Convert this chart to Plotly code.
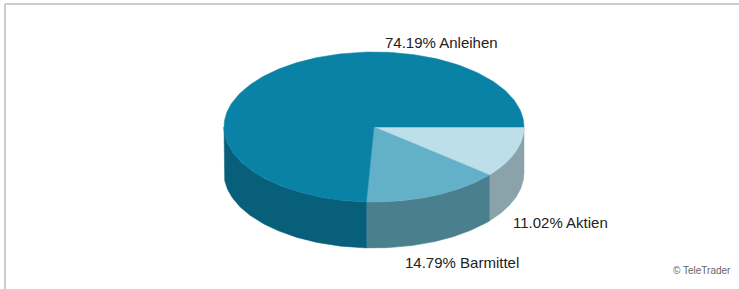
import numpy as np
import plotly.graph_objects as go

labels = ["Aktien", "Barmittel", "Anleihen"]
values = [11.02, 14.79, 74.19]
top_colors = ["#BDDFE9", "#62B1C9", "#0A82A6"]
side_colors = ["#8AA3AB", "#4A7F8E", "#075F7A"]

W, H = 739, 289
cx, cy, rx, ry, depth = 374, 127, 150, 75, 46

fig = go.Figure()

total = sum(values)
starts = np.cumsum([0] + values[:-1]) / total * 360
ends = np.cumsum(values) / total * 360

def pt(theta_deg):
    t = np.radians(theta_deg)
    return cx + rx * np.cos(t), cy + ry * np.sin(t)

# side walls (front half only: 0..180 deg, screen y downward)
for s, e, col in zip(starts, ends, side_colors):
    a, b = max(s, 0), min(e, 180)
    if b <= a:
        continue
    th = np.linspace(a, b, 80)
    xs, ys = pt(th)
    px = list(xs) + list(xs[::-1]) + [xs[0]]
    py = list(ys) + list((ys + depth)[::-1]) + [ys[0]]
    fig.add_trace(go.Scatter(x=px, y=py, fill="toself", fillcolor=col,
                             mode="lines", line=dict(width=0.5, color=col),
                             hoverinfo="skip", showlegend=False))

# top faces
for s, e, col in zip(starts, ends, top_colors):
    th = np.linspace(s, e, 200)
    xs, ys = pt(th)
    px = [cx] + list(xs) + [cx]
    py = [cy] + list(ys) + [cy]
    fig.add_trace(go.Scatter(x=px, y=py, fill="toself", fillcolor=col,
                             mode="lines", line=dict(width=0.5, color=col),
                             hoverinfo="skip", showlegend=False))

label_pos = {
    "Anleihen": (441, 42, "center"),
    "Aktien": (511, 222, "left"),
    "Barmittel": (462, 262, "center"),
}
for lab, v in zip(labels, values):
    x, y, al = label_pos[lab]
    fig.add_annotation(x=x, y=y, xref="x", yref="y", text=f"{v:.2f}% {lab}",
                       showarrow=False, xanchor=al, yanchor="middle",
                       font=dict(family="Liberation Sans, Arial", size=15, color="#222"))

fig.add_annotation(x=733, y=270, xref="x", yref="y", text="© TeleTrader",
                   showarrow=False, xanchor="right", yanchor="middle",
                   font=dict(family="Liberation Sans, Arial", size=10, color="#666"))

fig.add_shape(type="line", x0=5, x1=W, y0=4, y1=4, xref="x", yref="y",
              line=dict(color="#BBBBBB", width=1.5))
fig.add_shape(type="line", x0=5, x1=5, y0=4, y1=H, xref="x", yref="y",
              line=dict(color="#BBBBBB", width=1.5))

fig.update_layout(
    width=W, height=H, margin=dict(l=0, r=0, t=0, b=0),
    paper_bgcolor="white", plot_bgcolor="white",
    xaxis=dict(range=[0, W], visible=False, fixedrange=True),
    yaxis=dict(range=[H, 0], visible=False, fixedrange=True),
)
fig.write_html("out.html", config={"displayModeBar": False},
               post_script="document.body.style.margin='0px';document.body.style.overflow='hidden';")
